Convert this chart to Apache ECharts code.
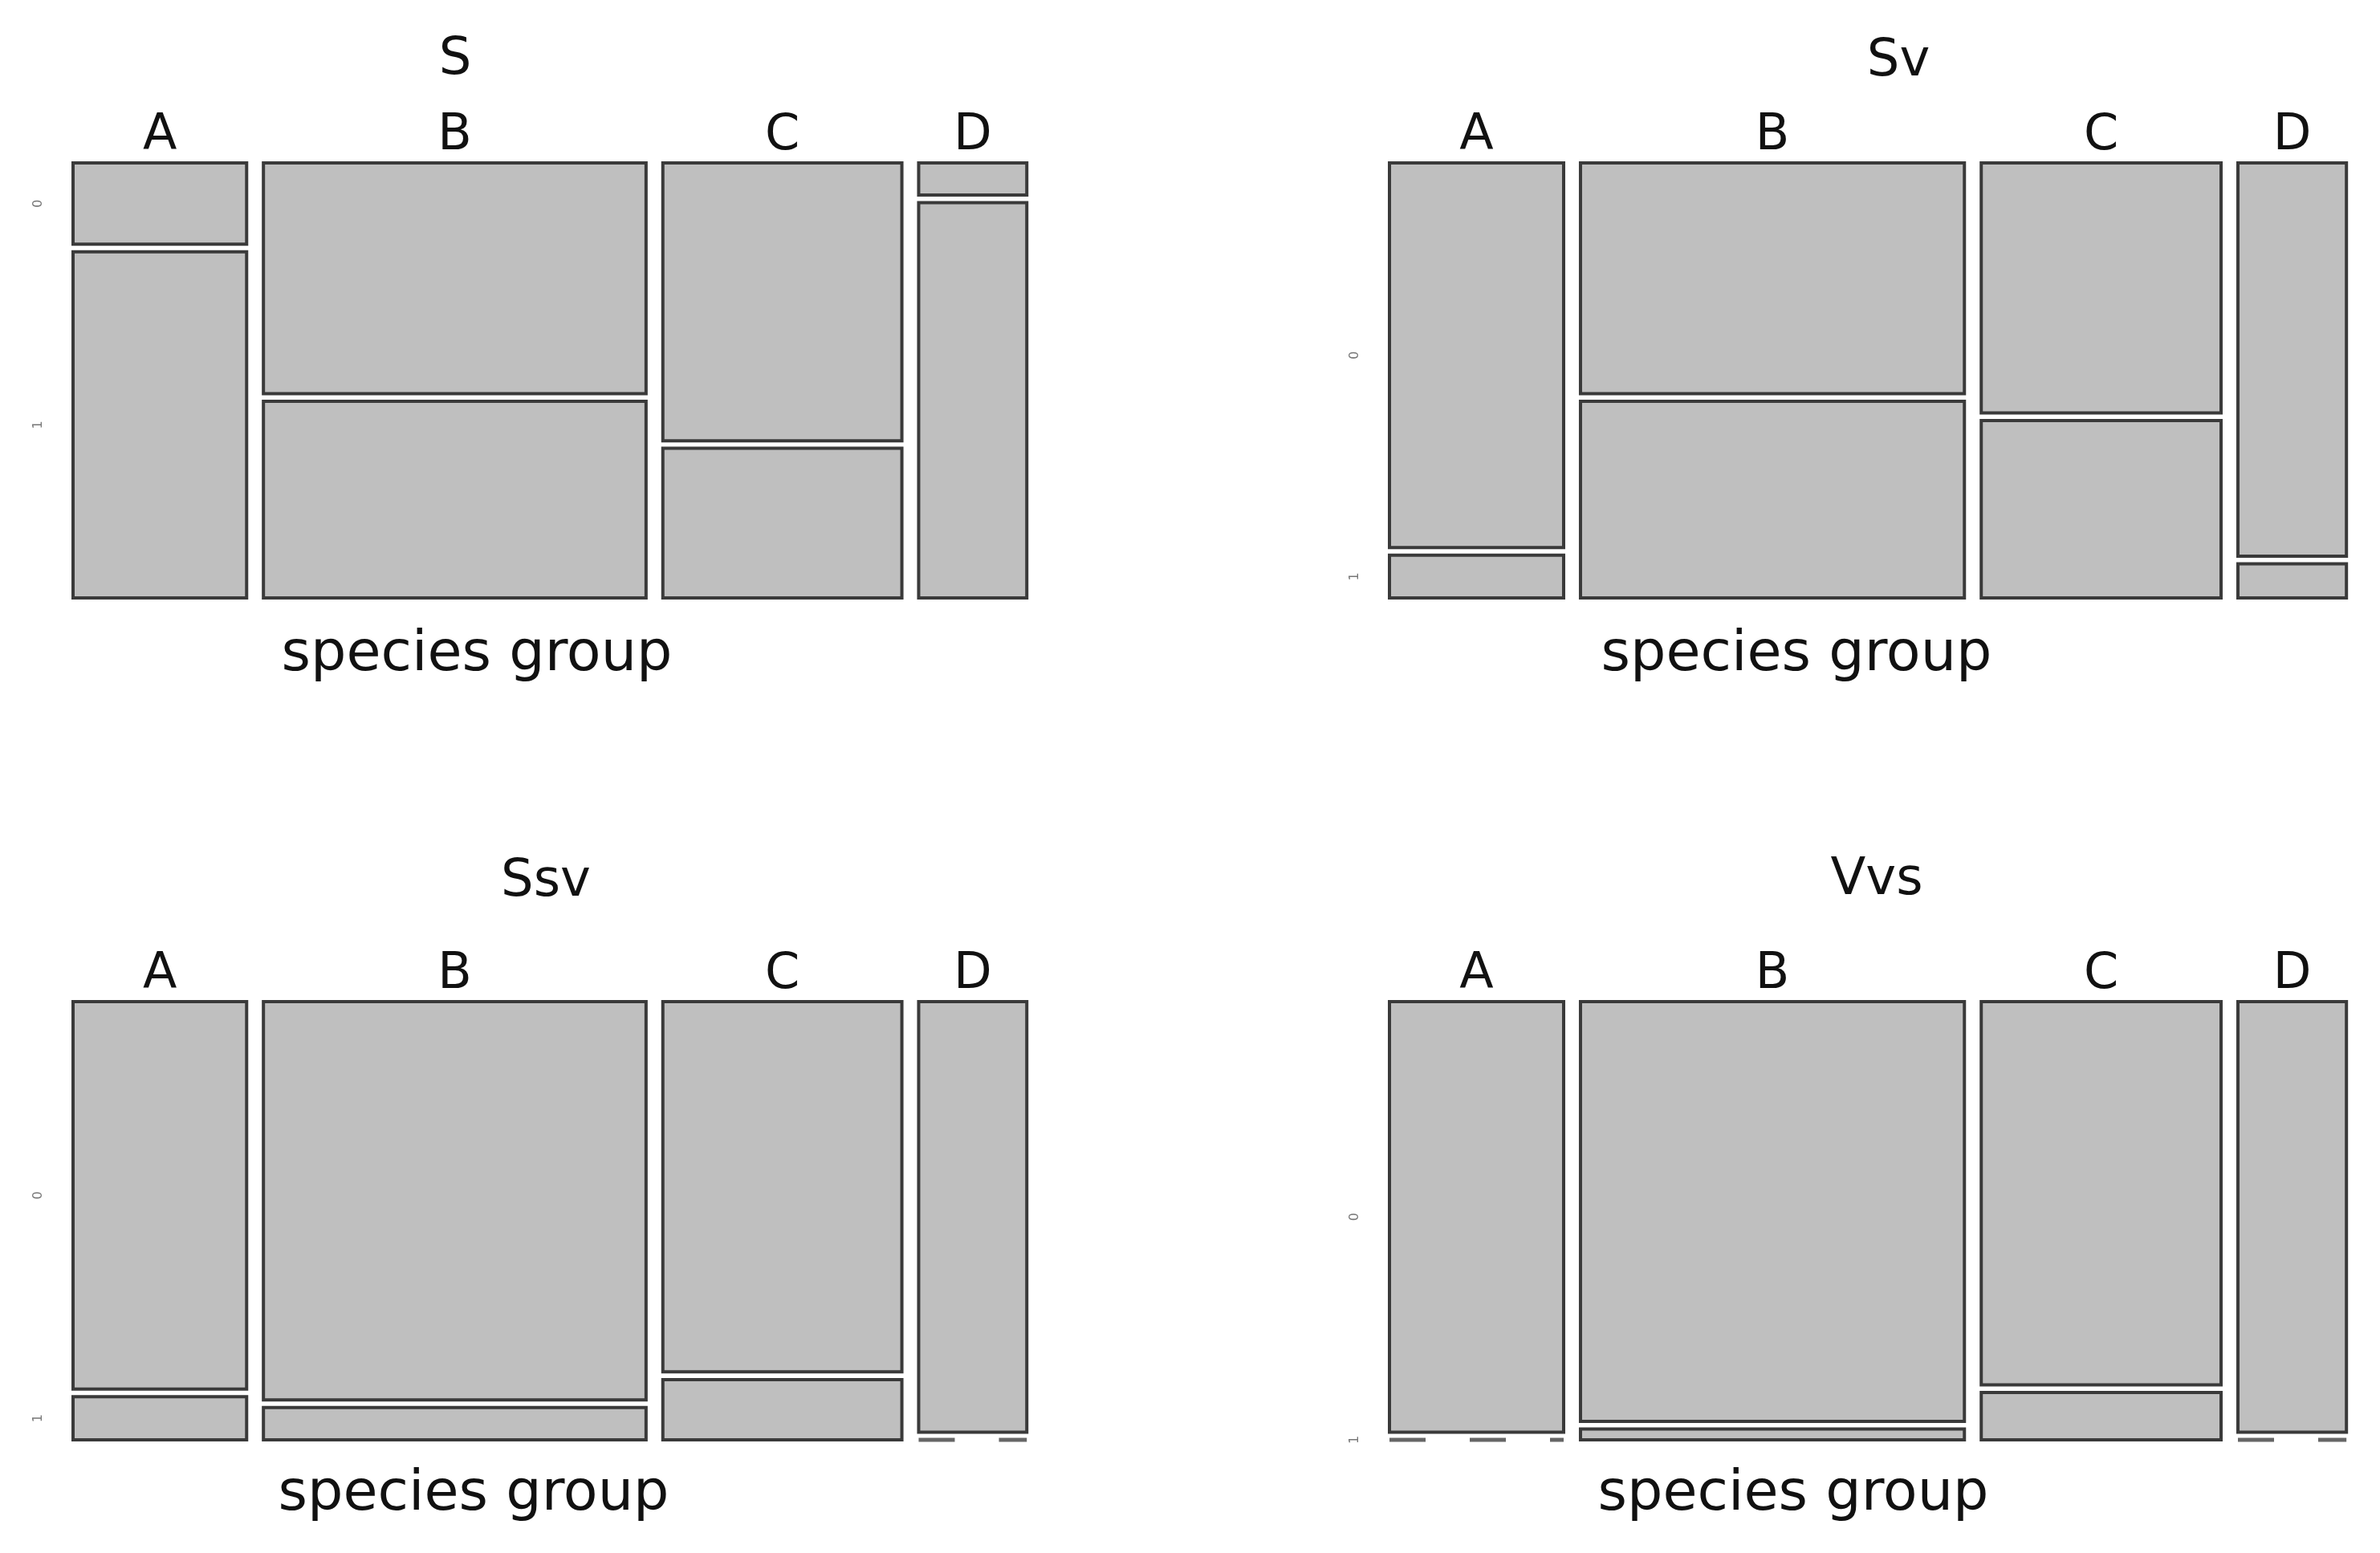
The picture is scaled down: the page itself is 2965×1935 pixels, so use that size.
<!DOCTYPE html>
<html><head><meta charset="utf-8">
<script src="https://cdn.jsdelivr.net/npm/echarts@6/dist/echarts.min.js"></script>
<style>html,body{margin:0;background:#fff}#c{width:2965px;height:1935px}</style>
</head><body><div id="c"></div>
<script>
const categories = ['A','B','C','D'];
const columnWidths = [0.191, 0.421, 0.263, 0.119];
const panelTitles = ['S','Sv','Ssv','Vvs'];
const tickLabels = ['0','1'];
// share of level "0" in each species group, per panel
const shareS   = [0.19, 0.54, 0.65, 0.075];
const shareSv  = [0.90, 0.54, 0.585, 0.92];
const shareSsv = [0.90, 0.925, 0.86, 1.0];
const shareVvs = [1.0, 0.975, 0.89, 1.0];
const shares = [shareS, shareSv, shareSsv, shareVvs];

const grids = [
  {left:91, top:203, width:1195, height:542},
  {left:1731, top:203, width:1199, height:542},
  {left:91, top:1248, width:1195, height:546},
  {left:1731, top:1248, width:1199, height:546}
];
const xlabPos = [[589,777],[2233,777],[585,1823],[2229,1823]];
const titlePos = [[562,38],[2360,40],[675,1062],[2333,1060]];
const G = 0.0175;

const chart = echarts.init(document.getElementById('c'));
const series = [], title = [];
shares.forEach((sh, p) => {
  const data = [];
  let x = 0;
  const scale = 1 - 3*G;
  categories.forEach((c, i) => {
    const w = columnWidths[i]*scale;
    const s0 = sh[i];
    const ys = 1 - G;
    if (s0 >= 1) {
      data.push([x, x+w, 0, 1-G, i, 0, 0]);
      data.push([x, x+w, 1, 1, i, 1, 1]);
    } else {
      data.push([x, x+w, 0, s0*ys, i, 0, 0]);
      data.push([x, x+w, s0*ys+G, 1, i, 1, 0]);
    }
    x += w + G;
  });
  series.push({
    type:'custom', xAxisIndex:p, yAxisIndex:p, data,
    renderItem:(params, api) => {
      const x0=api.value(0), x1=api.value(1), y0=api.value(2), y1=api.value(3);
      const ci=api.value(4), seg=api.value(5), dashed=api.value(6);
      const a = api.coord([x0,y0]), b = api.coord([x1,y1]);
      const children = [];
      if (dashed) {
        children.push({type:'line', shape:{x1:a[0],y1:a[1],x2:b[0],y2:a[1]},
          style:{stroke:'#666', lineWidth:5, lineDash:[45,55]}});
      } else {
        children.push({type:'rect', shape:{x:a[0],y:a[1],width:b[0]-a[0],height:b[1]-a[1]},
          style:{fill:'#bfbfbf', stroke:'#3a3a3a', lineWidth:4}});
      }
      if (seg===0) {
        children.push({type:'text', style:{text:categories[ci], x:(a[0]+b[0])/2, y:a[1]-2,
          align:'center', verticalAlign:'bottom', font:'62px "DejaVu Sans"', fill:'#111'}});
      }
      if (ci===0) {
        const yc = dashed ? a[1] : (a[1]+b[1])/2;
        children.push({type:'text', rotation:Math.PI/2, x:params.coordSys.x-43, y:yc,
          style:{text:tickLabels[seg], x:0, y:0, align:'center', verticalAlign:'middle',
          font:'16px "DejaVu Sans"', fill:'#777'}});
      }
      return {type:'group', children};
    }
  });
  title.push({text:panelTitles[p], left:titlePos[p][0], top:titlePos[p][1], textAlign:'center',
    textStyle:{fontSize:64, fontWeight:'normal', color:'#111', fontFamily:'DejaVu Sans'}});
  title.push({text:'species group', left:xlabPos[p][0], top:xlabPos[p][1], textAlign:'center',
    textStyle:{fontSize:70, fontWeight:'normal', color:'#111', fontFamily:'DejaVu Sans'}});
});
chart.setOption({
  animation:false,
  title,
  grid: grids,
  xAxis: grids.map((g,i)=>({type:'value', gridIndex:i, min:0, max:1, show:false})),
  yAxis: grids.map((g,i)=>({type:'value', gridIndex:i, min:0, max:1, inverse:true, show:false})),
  series
});
</script></body></html>
